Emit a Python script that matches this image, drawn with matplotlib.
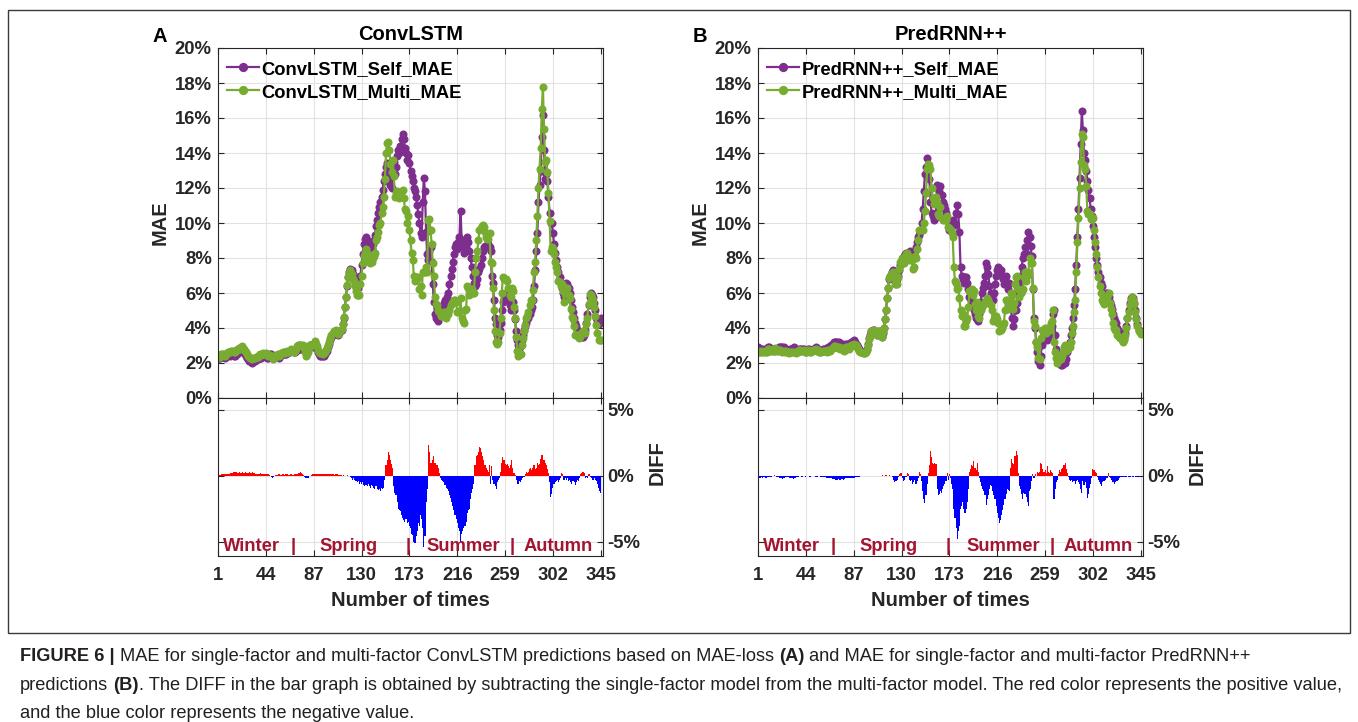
import numpy as np
import matplotlib
matplotlib.use("Agg")
import matplotlib.pyplot as plt
from matplotlib import font_manager
from matplotlib.patches import Rectangle
from matplotlib.transforms import IdentityTransform

# ---------------------------------------------------------------- data
x_ticks = [1, 44, 87, 130, 173, 216, 259, 302, 345]
mae_ticks = [0, 2, 4, 6, 8, 10, 12, 14, 16, 18, 20]
diff_ticks = [-5, 0, 5]

season_names = ["Winter", "Spring", "Summer", "Autumn"]
season_pos = [31, 118, 221, 307]
season_breaks = [68.5, 172, 265]

titles = ["ConvLSTM", "PredRNN++"]
panel_letters = ["A", "B"]
series_labels = [("ConvLSTM_Self_MAE", "ConvLSTM_Multi_MAE"),
                 ("PredRNN++_Self_MAE", "PredRNN++_Multi_MAE")]

# single-factor MAE (%) and DIFF = multi - single (%)
convlstm_self = [
    2.3, 2.3, 2.3, 2.4, 2.4, 2.4, 2.3, 2.4, 2.4, 2.5,
    2.5, 2.4, 2.5, 2.5, 2.4, 2.4, 2.5, 2.5, 2.6, 2.6,
    2.6, 2.7, 2.7, 2.6, 2.5, 2.4, 2.3, 2.2, 2.1, 2.1,
    2.1, 2.0, 2.1, 2.1, 2.2, 2.2, 2.2, 2.3, 2.3, 2.3,
    2.4, 2.4, 2.4, 2.4, 2.3, 2.3, 2.4, 2.5, 2.5, 2.4,
    2.4, 2.4, 2.4, 2.4, 2.4, 2.3, 2.4, 2.5, 2.5, 2.5,
    2.5, 2.5, 2.6, 2.6, 2.6, 2.6, 2.7, 2.7, 2.6, 2.6,
    2.7, 2.8, 2.8, 2.8, 2.8, 2.8, 2.9, 2.8, 2.7, 2.6,
    2.7, 2.8, 2.9, 3.0, 3.0, 2.9, 3.0, 3.1, 3.0, 2.8,
    2.6, 2.5, 2.4, 2.4, 2.4, 2.4, 2.5, 2.6, 2.7, 2.9,
    3.1, 3.3, 3.5, 3.6, 3.7, 3.8, 3.8, 3.7, 3.6, 3.7,
    3.8, 3.9, 4.2, 4.6, 5.2, 5.8, 6.4, 6.9, 7.2, 7.4,
    7.3, 7.1, 6.9, 6.7, 6.5, 6.4, 6.3, 6.5, 7.0, 7.6,
    8.2, 8.8, 9.1, 9.2, 9.0, 8.8, 8.7, 8.6, 8.5, 8.8,
    9.0, 9.3, 9.8, 10.2, 10.6, 10.9, 11.2, 11.5, 11.9, 12.4,
    12.8, 13.2, 13.4, 12.8, 12.6, 12.2, 12.0, 13.0, 13.5, 12.8,
    13.2, 13.8, 14.2, 14.0, 14.4, 14.8, 15.1, 14.8, 14.3, 14.0,
    13.6, 13.9, 13.4, 13.0, 12.7, 12.4, 12.0, 11.8, 11.5, 11.0,
    10.5, 10.0, 9.4, 9.2, 11.2, 12.6, 11.8, 9.5, 8.2, 7.9,
    8.4, 8.6, 7.8, 6.5, 5.5, 4.8, 4.6, 4.5, 4.4, 4.7,
    4.9, 5.0, 5.2, 5.4, 5.6, 5.5, 5.8, 6.0, 6.5, 7.0,
    7.4, 7.8, 8.2, 8.6, 8.8, 8.5, 8.9, 9.2, 10.7, 9.0,
    8.6, 8.3, 8.8, 8.6, 9.2, 8.9, 8.4, 8.0, 7.5, 7.0,
    6.6, 6.4, 6.5, 6.8, 7.2, 7.4, 7.6, 8.0, 8.4, 8.6,
    8.7, 8.6, 8.7, 8.8, 8.6, 8.4, 7.0, 6.6, 5.6, 4.6,
    4.2, 3.6, 3.5, 3.9, 4.3, 5.0, 5.5, 5.6, 5.9, 6.0,
    5.8, 5.6, 5.3, 5.0, 5.1, 5.5, 5.0, 4.5, 3.8, 3.3,
    3.0, 2.9, 3.0, 3.3, 3.6, 3.9, 4.1, 4.3, 4.5, 4.6,
    4.8, 5.0, 5.2, 5.6, 6.4, 7.3, 8.4, 9.4, 11.2, 12.2,
    13.0, 14.9, 16.2, 14.2, 12.5, 12.8, 12.4, 11.5, 10.6, 10.0,
    10.0, 9.4, 8.8, 8.3, 7.9, 7.5, 7.2, 6.9, 6.6, 6.3,
    6.0, 5.8, 6.2, 6.6, 6.5, 6.3, 6.0, 5.6, 5.2, 4.9,
    4.6, 4.3, 4.1, 3.9, 3.8, 3.7, 3.6, 3.5, 3.5, 3.6,
    3.9, 4.3, 4.8, 5.3, 5.8, 6.0, 5.9, 5.8, 5.4, 5.0,
    4.6, 4.3, 4.2, 4.5, 4.6,
]
convlstm_diff = [
    0.05, 0.05, 0.05, 0.1, 0.1, 0.1, 0.1, 0.1, 0.15, 0.15,
    0.15, 0.2, 0.2, 0.2, 0.25, 0.25, 0.25, 0.25, 0.2, 0.25,
    0.2, 0.2, 0.25, 0.2, 0.2, 0.25, 0.2, 0.2, 0.25, 0.2,
    0.2, 0.25, 0.2, 0.2, 0.15, 0.15, 0.15, 0.15, 0.2, 0.15,
    0.15, 0.1, 0.1, 0.15, 0.15, 0.1, 0.05, -0.05, -0.1, -0.15,
    -0.1, -0.05, 0.05, 0.05, 0.1, 0.1, 0.05, 0.05, 0.1, 0.1,
    0.05, 0.1, 0.1, 0.05, 0.05, 0.1, 0.1, 0.05, 0.05, 0.1,
    0.1, 0.15, 0.2, 0.2, 0.25, 0.2, 0.15, 0.05, -0.1, -0.2,
    -0.2, -0.15, -0.05, 0.0, 0.05, 0.1, 0.1, 0.15, 0.1, 0.15,
    0.15, 0.1, 0.15, 0.15, 0.1, 0.15, 0.1, 0.15, 0.15, 0.1,
    0.1, 0.15, 0.1, 0.1, 0.1, 0.05, 0.1, 0.1, 0.05, 0.05,
    0.05, 0.05, 0.0, 0.05, 0.0, 0.0, 0.05, 0.0, -0.05, -0.1,
    -0.2, -0.3, -0.2, -0.3, -0.4, -0.5, -0.4, -0.6, -0.5, -0.6,
    -0.5, -0.7, -0.8, -0.7, -0.8, -0.6, -0.8, -0.9, -0.7, -0.8,
    -0.9, -1.0, -0.8, -1.0, -1.1, -1.0, -1.2, -0.9, -1.0, -0.9,
    -0.3, 0.8, 1.2, 1.8, 1.6, 1.2, 0.9, 0.6, -0.8, -1.3,
    -1.5, -2.0, -2.5, -2.6, -2.7, -3.0, -3.2, -3.4, -3.5, -3.3,
    -3.6, -3.5, -3.8, -4.0, -4.4, -4.5, -5.0, -5.1, -4.6, -4.2,
    -3.6, -3.8, -3.0, -3.3, -4.0, -5.4, -4.6, -2.0, -1.0, 2.3,
    1.8, 1.0, 1.0, 1.2, 1.5, 1.0, 0.8, 0.8, 0.6, 0.2,
    -0.2, -0.3, -0.4, -0.5, -0.7, -0.9, -1.0, -1.2, -1.5, -1.7,
    -2.0, -2.3, -2.6, -3.0, -3.3, -3.6, -4.0, -4.2, -5.0, -4.4,
    -4.2, -4.0, -3.8, -3.5, -2.8, -2.6, -2.5, -1.8, -1.3, -1.0,
    -0.6, 0.8, 1.5, 1.6, 1.8, 2.2, 2.1, 1.8, 1.5, 1.2,
    0.8, 0.6, 0.4, 0.3, 0.8, -0.6, 0.7, -0.3, -0.6, -0.8,
    -1.0, -0.5, -0.3, -0.2, 0.3, 1.0, 1.4, 1.2, 0.9, 0.8,
    0.9, 0.7, 0.6, 0.8, 1.2, 0.6, 0.2, 0.05, -0.3, -0.6,
    -0.6, -0.4, -0.5, -0.3, -0.2, -0.1, 0.1, 0.3, 0.2, 0.3,
    0.5, 0.6, 0.4, 0.6, 0.8, 0.5, 0.6, 1.0, 0.8, 0.9,
    1.3, 1.6, 1.6, 1.2, 1.0, 0.8, 0.5, 0.2, -0.5, -1.6,
    -1.4, -0.9, -0.6, -0.5, -0.4, -0.3, -0.5, -0.3, -0.2, 0.2,
    0.1, -0.3, -0.2, -0.3, -0.2, -0.4, -0.3, -0.5, -0.6, -0.4,
    -0.5, -0.7, -0.5, -0.3, -0.4, -0.2, 0.1, 0.2, 0.3, 0.2,
    -0.2, -0.1, -0.2, 0.1, 0.15, -0.1, -0.2, -0.3, -0.2, -0.3,
    -0.4, -0.6, -0.9, -1.2, -1.3,
]
predrnn_self = [
    2.9, 2.8, 2.8, 2.8, 2.8, 2.7, 2.8, 2.8, 2.8, 2.9,
    2.9, 2.8, 2.8, 2.8, 2.7, 2.8, 2.8, 2.8, 2.8, 2.9,
    2.9, 2.9, 2.9, 2.9, 2.8, 2.8, 2.7, 2.7, 2.7, 2.8,
    2.8, 2.8, 2.9, 2.8, 2.7, 2.7, 2.7, 2.8, 2.8, 2.8,
    2.8, 2.8, 2.7, 2.7, 2.7, 2.8, 2.8, 2.7, 2.7, 2.8,
    2.8, 2.8, 2.9, 2.8, 2.8, 2.7, 2.7, 2.7, 2.8, 2.8,
    2.8, 2.8, 2.8, 2.9, 2.9, 2.9, 3.0, 3.1, 3.2, 3.2,
    3.2, 3.2, 3.1, 3.2, 3.1, 3.1, 3.1, 3.0, 3.0, 3.1,
    3.1, 3.0, 3.0, 3.1, 3.2, 3.2, 3.3, 3.2, 3.1, 3.0,
    2.9, 2.8, 2.7, 2.7, 2.6, 2.6, 2.6, 2.7, 2.8, 3.1,
    3.4, 3.6, 3.8, 3.9, 3.9, 3.8, 3.7, 3.6, 3.7, 3.8,
    3.6, 3.5, 3.7, 4.0, 4.5, 5.0, 5.7, 6.3, 6.8, 7.0,
    7.2, 7.3, 7.2, 7.0, 6.9, 6.8, 7.0, 7.3, 7.6, 7.8,
    7.9, 8.1, 8.2, 8.3, 8.1, 8.0, 8.2, 8.4, 8.2, 8.0,
    8.0, 8.4, 8.6, 8.9, 9.2, 9.3, 9.5, 10.0, 10.8, 11.8,
    12.8, 13.2, 13.7, 13.2, 12.5, 11.2, 10.6, 10.4, 10.2, 10.3,
    10.6, 12.2, 12.0, 11.8, 12.1, 11.6, 11.2, 11.0, 10.8, 10.6,
    10.2, 10.1, 9.6, 9.8, 10.0, 10.2, 10.0, 9.9, 10.6, 11.0,
    10.5, 9.5, 7.5, 7.0, 6.8, 6.6, 6.9, 6.9, 6.6, 6.2,
    5.8, 5.6, 5.4, 5.2, 5.0, 4.8, 4.6, 4.5, 4.4, 4.8,
    5.5, 6.0, 6.3, 6.6, 7.0, 7.7, 7.5, 7.1, 6.4, 6.0,
    5.8, 5.6, 6.0, 6.5, 7.0, 7.3, 7.5, 7.4, 7.3, 7.0,
    6.8, 6.5, 6.8, 7.0, 6.6, 6.2, 6.6, 5.4, 4.6, 4.1,
    4.5, 5.0, 5.0, 5.4, 6.0, 6.6, 7.0, 7.5, 8.0, 8.2,
    8.6, 8.3, 9.0, 9.5, 9.2, 8.7, 8.1, 6.2, 4.6, 4.0,
    3.2, 2.6, 2.1, 1.9, 2.4, 3.0, 3.3, 3.5, 3.6, 3.5,
    3.3, 3.5, 3.7, 3.9, 4.1, 4.8, 5.0, 3.6, 2.8, 2.3,
    2.1, 2.0, 1.9, 1.9, 2.0, 2.1, 2.0, 2.2, 2.6, 2.9,
    3.2, 3.6, 4.0, 4.6, 5.3, 6.2, 7.6, 9.2, 10.8, 12.6,
    14.5, 16.4, 15.3, 14.0, 13.6, 13.0, 12.4, 11.9, 11.4, 10.8,
    10.4, 9.8, 9.2, 8.6, 8.0, 7.6, 7.2, 6.9, 6.6, 6.4,
    6.0, 5.8, 5.9, 6.0, 6.0, 5.8, 5.5, 5.3, 5.1, 4.8,
    4.6, 4.4, 4.3, 4.0, 3.8, 3.6, 3.5, 3.4, 3.3, 3.4,
    3.7, 4.1, 4.6, 5.0, 5.4, 5.7, 5.8, 5.7, 5.4, 5.0,
    4.6, 4.2, 3.9, 3.8, 3.7,
]
predrnn_diff = [
    -0.2, -0.2, -0.15, -0.1, -0.15, -0.1, -0.1, -0.15, -0.15, -0.1,
    -0.1, -0.1, -0.1, -0.05, 0.0, 0.05, -0.05, -0.1, -0.1, -0.15,
    -0.15, -0.2, -0.25, -0.2, -0.15, -0.1, -0.1, -0.1, -0.15, -0.2,
    -0.2, -0.2, -0.25, -0.2, -0.15, -0.1, -0.1, -0.05, -0.05, -0.1,
    -0.1, -0.05, -0.05, -0.1, -0.05, -0.05, -0.1, -0.1, -0.05, -0.05,
    -0.05, -0.05, -0.1, -0.1, -0.05, -0.05, -0.1, -0.1, -0.1, -0.1,
    -0.1, -0.1, -0.15, -0.15, -0.2, -0.2, -0.2, -0.25, -0.25, -0.25,
    -0.3, -0.3, -0.25, -0.3, -0.3, -0.25, -0.25, -0.3, -0.25, -0.2,
    -0.2, -0.15, -0.2, -0.2, -0.15, -0.15, -0.2, -0.15, -0.1, -0.1,
    -0.1, -0.1, -0.05, -0.05, -0.05, -0.05, -0.05, -0.05, -0.05, -0.05,
    -0.05, -0.05, 0.0, -0.05, 0.0, 0.0, -0.05, 0.0, 0.0, 0.0,
    0.0, 0.0, 0.05, 0.0, 0.0, 0.05, 0.0, 0.0, 0.05, 0.0,
    -0.05, -0.1, -0.3, -0.5, -0.4, -0.3, -0.1, 0.1, 0.2, 0.2,
    -0.2, -0.4, -0.3, -0.1, 0.2, 0.1, -0.3, -0.4, -0.3, -0.6,
    -0.5, -0.3, -0.6, -0.4, -0.2, 0.3, 0.1, -0.4, -1.2, -1.8,
    -2.1, -1.5, -0.6, 0.2, 0.8, 1.9, 1.4, 1.0, 0.9, 1.0,
    0.9, -1.0, -1.5, -1.4, -1.2, -1.3, -1.0, -0.8, -0.6, -0.4,
    0.2, -0.3, 0.1, -0.2, -0.6, -1.0, -2.5, -3.2, -4.0, -4.8,
    -4.2, -3.8, -2.5, -2.3, -2.0, -2.5, -2.8, -2.5, -2.0, -1.0,
    0.3, 0.5, 0.8, 0.7, 1.1, 0.6, 0.4, 1.0, 0.3, -0.2,
    -0.5, -0.8, -1.0, -1.2, -1.5, -2.2, -1.8, -1.5, -1.0, -0.7,
    -0.8, -1.2, -1.5, -1.8, -2.3, -2.8, -3.2, -3.6, -3.4, -3.0,
    -2.6, -2.2, -1.8, -1.4, -1.0, -1.1, -1.2, 0.6, 1.3, 1.0,
    0.9, 1.5, 1.9, 1.6, 0.2, -0.8, -1.0, -1.4, -1.8, -1.3,
    -1.4, -1.6, -2.0, -2.3, -1.2, -1.0, -0.4, 0.1, -0.2, 0.1,
    0.0, 0.3, 0.2, 0.3, 1.0, 0.9, 0.5, 0.3, 0.4, 0.2,
    0.7, 0.3, 0.2, 0.4, 0.3, 0.2, -1.8, -1.0, -0.5, -0.3,
    0.1, 0.4, 0.3, 0.5, 0.6, 0.8, 1.0, 0.5, 0.2, -0.1,
    -0.3, -0.4, -0.3, -0.5, -0.4, -0.6, -0.4, -0.3, -0.5, -0.6,
    -1.0, -1.3, -0.4, -0.7, -0.5, -0.9, -1.7, -1.4, -0.9, -0.6,
    -0.2, 0.5, 0.4, 0.3, 0.2, -0.1, -0.3, -0.5, -0.6, -0.8,
    -0.5, -0.4, -0.3, -0.2, -0.2, 0.2, -0.1, -0.2, -0.3, -0.5,
    -0.6, -0.5, -0.4, -0.4, -0.3, -0.2, -0.1, -0.1, -0.1, -0.1,
    -0.1, -0.1, -0.05, -0.1, -0.1, -0.1, -0.05, -0.1, -0.05, -0.1,
    -0.1, -0.1, -0.1, -0.05, -0.05,
]

caption_lines = [
    [("FIGURE 6 |", "bold", False),
     ("MAE for single-factor and multi-factor ConvLSTM predictions based on MAE-loss", "normal", True),
     ("(A)", "bold", True),
     ("and MAE for single-factor and multi-factor PredRNN++", "normal", True)],
    [("predictions", "normal", False),
     ("(B)", "bold", True),
     (". The DIFF in the bar graph is obtained by subtracting the single-factor model "
      "from the multi-factor model. The red color represents the positive value,", "normal", False)],
    [("and the blue color represents the negative value.", "normal", False)],
]

# ---------------------------------------------------------------- style
PURPLE = "#7E2F8E"
GREEN = "#77AC30"
RED = "#FF0000"
BLUE = "#0000FF"
SEASON = "#A2142F"
DARK = "#262626"
GRID = "#e2e2e2"

plt.rcParams.update({
    "font.family": ["Liberation Sans", "DejaVu Sans"],
    "font.weight": "bold",
    "axes.labelweight": "bold",
    "axes.titleweight": "bold",
})

W, H = 1358, 722
fig = plt.figure(figsize=(W / 100, H / 100), dpi=100)


def add_ax(left, top, width, height):
    return fig.add_axes([left / W, 1 - (top + height) / H, width / W, height / H])


def fig_xy(px, py):
    return px / W, 1 - py / H


panel_data = [(convlstm_self, convlstm_diff), (predrnn_self, predrnn_diff)]
panel_left = [218, 758]
AX_W = 385
MS = 5.8

for k in range(2):
    L = panel_left[k]
    single = np.array(panel_data[k][0])
    diff = np.array(panel_data[k][1])
    multi = single + diff
    n = np.arange(1, len(single) + 1)

    ax_t = add_ax(L, 48, AX_W, 350)
    ax_b = add_ax(L, 398, AX_W, 158)

    for ax in (ax_t, ax_b):
        ax.set_xlim(1, 347)
        ax.set_xticks(x_ticks)
        ax.grid(True, color=GRID, linewidth=0.8)
        ax.set_axisbelow(True)
        for s in ax.spines.values():
            s.set_color(DARK)
            s.set_linewidth(0.8)
        ax.tick_params(direction="in", length=4, width=0.8, color=DARK,
                       labelcolor=DARK, labelsize=13.3, top=True, right=True)

    # MAE lines
    ax_t.plot(n, single, "-o", color=PURPLE, lw=1.6, ms=MS, mew=0,
              label=series_labels[k][0])
    ax_t.plot(n, multi, "-o", color=GREEN, lw=1.6, ms=MS, mew=0,
              label=series_labels[k][1])
    ax_t.set_ylim(0, 20)
    ax_t.set_yticks(mae_ticks)
    ax_t.set_yticklabels([f"{v}%" for v in mae_ticks])
    ax_t.tick_params(axis="x", labelbottom=False)
    ax_t.tick_params(axis="y", pad=4.5)

    leg = ax_t.legend(loc="upper left", bbox_to_anchor=(0.023, 0.964),
                      frameon=False, fontsize=13.2, handlelength=1.75,
                      handletextpad=0.15, labelspacing=0.34,
                      borderaxespad=0, borderpad=0, markerscale=1.15)
    for t in leg.get_texts():
        t.set_color("black")

    # DIFF bars
    ax_b.bar(n, diff, width=1.0, color=np.where(diff > 0, RED, BLUE),
             linewidth=0)
    ax_b.set_ylim(-6.1, 5.9)
    ax_b.set_yticks(diff_ticks)
    ax_b.set_yticklabels([f"{v}%" for v in diff_ticks])
    ax_b.tick_params(axis="y", labelleft=False, labelright=True, pad=3.3)
    ax_b.tick_params(axis="x", pad=8)

    for name, pos in zip(season_names, season_pos):
        ax_b.text(pos, -5.4, name, color=SEASON, fontsize=13.2,
                  ha="center", va="center")
    for pos in season_breaks:
        ax_b.text(pos, -5.4, "|", color=SEASON, fontsize=13.2,
                  ha="center", va="center")

    # titles and labels
    fig.text(*fig_xy(L + AX_W / 2, 35), titles[k], fontsize=14.5,
             ha="center", va="center", color="black")
    fig.text(*fig_xy(L - 58, 36), panel_letters[k], fontsize=14.5,
             ha="center", va="center", color="black")
    fig.text(*fig_xy(L - 58, 223), "MAE", fontsize=14.5, rotation=90,
             ha="center", va="center", color=DARK)
    fig.text(*fig_xy(L + 439, 463), "DIFF", fontsize=14.5, rotation=90,
             ha="center", va="center", color=DARK)
    fig.text(*fig_xy(L + AX_W / 2, 600), "Number of times", fontsize=14.5,
             ha="center", va="center", color=DARK)

# frame around the chart area
fig.patches.append(Rectangle((8 / W, 1 - 633 / H), (1350 - 8) / W, (633 - 10) / H,
                             transform=fig.transFigure, fill=False,
                             edgecolor="#3a3a3a", linewidth=1.0))

# ---------------------------------------------------------------- caption
names = {f.name for f in font_manager.fontManager.ttflist}
cap_family = "Liberation Sans Narrow" if "Liberation Sans Narrow" in names else "Liberation Sans"
renderer = fig.canvas.get_renderer()
CAP_COLOR = "#231F20"


def measure(text, weight, size):
    t = fig.text(0, 0, text, fontsize=size, fontweight=weight,
                 family=cap_family, transform=IdentityTransform())
    w = t.get_window_extent(renderer).width
    t.remove()
    return w


def line_width(runs, size):
    space = measure("a a", "normal", size) - measure("aa", "normal", size)
    total = 0
    for text, weight, gap in runs:
        if gap:
            total += space
        total += measure(text, weight, size)
    return total


ref = 10.0
cap_size = ref * 1325 / line_width(caption_lines[1], ref)
space_w = measure("a a", "normal", cap_size) - measure("aa", "normal", cap_size)

baselines = [661, 690, 718]
for runs, base in zip(caption_lines, baselines):
    x = 20
    for text, weight, gap in runs:
        if gap:
            x += space_w
        fig.text(x, H - base, text, fontsize=cap_size, fontweight=weight,
                 family=cap_family, color=CAP_COLOR, ha="left", va="baseline",
                 transform=IdentityTransform())
        x += measure(text, weight, cap_size)

fig.savefig("out.png", dpi=100)
